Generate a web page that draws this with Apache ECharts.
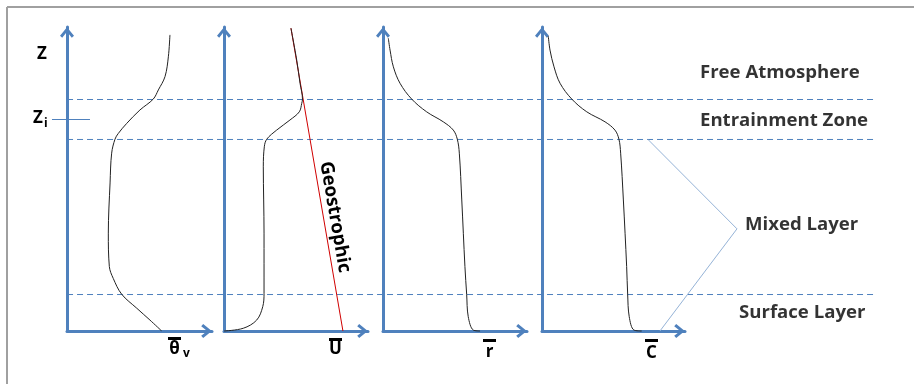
<!DOCTYPE html>
<html><head><meta charset="utf-8">
<script src="https://cdn.jsdelivr.net/npm/echarts@6/dist/echarts.min.js"></script>
<style>html,body{margin:0;padding:0;background:#fff}#c{width:914px;height:384px}</style>
</head><body><div id="c"></div>
<script>
// ---- data (height z in % of axis, variable in % of axis length) ----
const thetaX = [71.0,69.9,67.6,63.0,59.5,50.3,41.2,35.4,33.1,30.8,29.7,28.5,29.2,31.9,37.7,48.1,57.2,65.3];
const thetaZ = [97.4,90.2,83.7,79.3,76.3,72.7,68.3,65.0,63.1,58.5,48.7,32.2,21.2,17.3,12.1,7.5,3.6,0];
const windX  = [0,13.4,22.7,26.9,27.8,27.8,27.3,28.0,29.7,36.6,45.8,52.3,54.0,54.5,52.8,50.5,46.5];
const windZ  = [0,0.9,3.6,8.0,12.4,32.2,54.0,60.6,63.1,66.1,69.4,72.1,74.9,76.3,81.5,89.1,99.6];
const geoX   = [46.5,82.6];
const geoZ   = [99.6,0];
const rX     = [3.7,4.9,7.2,11.8,19.9,30.3,41.9,48.8,51.6,53.0,54.7,56.9,58.1,59.2,62.7,67.4];
const rZ     = [96.3,92.4,86.9,81.5,76.3,72.1,68.8,66.1,63.1,58.5,43.1,21.2,12.1,4.7,0.3,0];
const cX     = [4.4,5.6,8.4,12.6,20.8,31.3,44.1,51.0,53.8,55.0,56.9,59.2,59.9,61.0,64.3,69.7];
const cZ     = [97.0,92.4,86.9,81.5,76.3,72.1,68.8,66.1,63.1,58.5,43.1,21.2,12.1,4.7,0.3,0];
// overlay (x in % of the overlay band)
const boundaryZ = [76.15,63.0,12.0];
const boundaryX = [3.23,100];
const ziZ = 69.57;
const ziTickX = [1.43,5.97];
const bracketX = [72.64,83.27,74.07];
const bracketZ = [63.0,33.6,0];
const layerNames = ['Free Atmosphere','Entrainment Zone','Mixed Layer','Surface Layer'];
const layerX = [78.85,78.85,84.23,83.51];
const layerZ = [84.9,69.1,34.9,5.9];
const axisVars = ['θ','U','r','C'];
const axisSubs = ['v','','',''];

const BLUE = '#4f81bd';
const FONT = '"Open Sans", sans-serif';
const chevron = 'path://M7,0 L14,8.6 L11.8,10.6 L7,4.6 L2.2,10.6 L0,8.6 Z';

const panels = [
  {left:67, width:145},
  {left:224, width:144},
  {left:383, width:144},
  {left:542, width:143}
];
const grids = panels.map(p => ({left:p.left, width:p.width, top:27, bottom:53}));
grids.push({left:40, width:837, top:27, bottom:53});

const axisLine = {show:true, onZero:false, symbol:['none', chevron], symbolSize:[14,11], symbolOffset:[0,-5.5],
  lineStyle:{color:BLUE, width:3}};
const xAxes = grids.map((g,i) => ({type:'value', gridIndex:i, min:0, max:100,
  axisLine: i<4 ? axisLine : {show:false}, axisTick:{show:false}, axisLabel:{show:false}, splitLine:{show:false}}));
const yAxes = grids.map((g,i) => ({type:'value', gridIndex:i, min:0, max:100,
  axisLine: i<4 ? axisLine : {show:false}, axisTick:{show:false}, axisLabel:{show:false}, splitLine:{show:false}}));

const zip = (xs, zs) => xs.map((x,i) => [x, zs[i]]);
const curve = (idx, xs, zs, color, smooth) => ({type:'line', xAxisIndex:idx, yAxisIndex:idx, data:zip(xs,zs),
  showSymbol:false, smooth:smooth, clip:false, lineStyle:{color:color, width:1}, z:5, silent:true});

const series = [];
boundaryZ.forEach(z => series.push({type:'line', xAxisIndex:4, yAxisIndex:4, data:boundaryX.map(x => [x, z]), showSymbol:false,
  lineStyle:{color:BLUE, width:1, type:[6,4]}, z:2, silent:true}));
series.push({type:'line', xAxisIndex:4, yAxisIndex:4, data:ziTickX.map(x => [x, ziZ]), showSymbol:false, clip:false,
  lineStyle:{color:BLUE, width:1}, silent:true});
series.push({type:'line', xAxisIndex:4, yAxisIndex:4, data:zip(bracketX, bracketZ), showSymbol:false, clip:false,
  lineStyle:{color:'#95b3d7', width:1}, silent:true});
series.push({type:'scatter', xAxisIndex:4, yAxisIndex:4, symbolSize:0, silent:true,
  data: layerNames.map((n,i) => ({value:[layerX[i], layerZ[i]], name:n})),
  label:{show:true, position:'right', distance:0, formatter:p => p.name, color:'#000',
    fontFamily:FONT, fontWeight:'bold', fontSize:18.6}});
series.push(curve(1, geoX, geoZ, '#d00000', false));
series.push(curve(0, thetaX, thetaZ, '#222', 0.35));
series.push(curve(1, windX, windZ, '#222', 0.35));
series.push(curve(2, rX, rZ, '#222', 0.35));
series.push(curve(3, cX, cZ, '#222', 0.35));

const varLabelPos = [{x:168, bar:337, cy:349}, {x:329, bar:338, cy:349}, {x:483, bar:339, cy:352}, {x:645, bar:339, cy:353}];
const graphic = [
  {type:'line', shape:{x1:7,y1:7,x2:914,y2:7}, style:{stroke:'#a0a0a0', lineWidth:2}, silent:true},
  {type:'line', shape:{x1:7,y1:7,x2:7,y2:384}, style:{stroke:'#a0a0a0', lineWidth:2}, silent:true},
  {type:'text', x:37, y:54, style:{text:'Z', font:'bold 17px '+FONT, fill:'#000', textVerticalAlign:'middle'}},
  {type:'text', x:33, y:118, style:{text:'Z', font:'bold 17px '+FONT, fill:'#000', textVerticalAlign:'middle'}},
  {type:'text', x:44, y:124, style:{text:'i', font:'bold 12px '+FONT, fill:'#000', textVerticalAlign:'middle'}},
  {type:'text', x:335, y:217, rotation:-1.40, style:{text:'Geostrophic', font:'bold 18.6px '+FONT, fill:'#000',
    textAlign:'center', textVerticalAlign:'middle'}}
];
axisVars.forEach((v,i) => {
  const p = varLabelPos[i];
  graphic.push({type:'rect', shape:{x:p.x, y:p.bar, width:13, height:3}, style:{fill:'#000'}, silent:true});
  graphic.push({type:'text', x:p.x + 6.5, y:p.cy, style:{text:v, font:'bold 17px '+FONT, fill:'#000',
    textAlign:'center', textVerticalAlign:'middle'}});
  if (axisSubs[i]) graphic.push({type:'text', x:p.x + 15, y:p.cy + 5, style:{text:axisSubs[i], font:'bold 12px '+FONT,
    fill:'#000', textVerticalAlign:'middle'}});
});

const chart = echarts.init(document.getElementById('c'), null, {renderer:'canvas'});
chart.setOption({
  animation:false,
  backgroundColor:'#fff',
  grid:grids, xAxis:xAxes, yAxis:yAxes, series:series, graphic:graphic
});
</script></body></html>
